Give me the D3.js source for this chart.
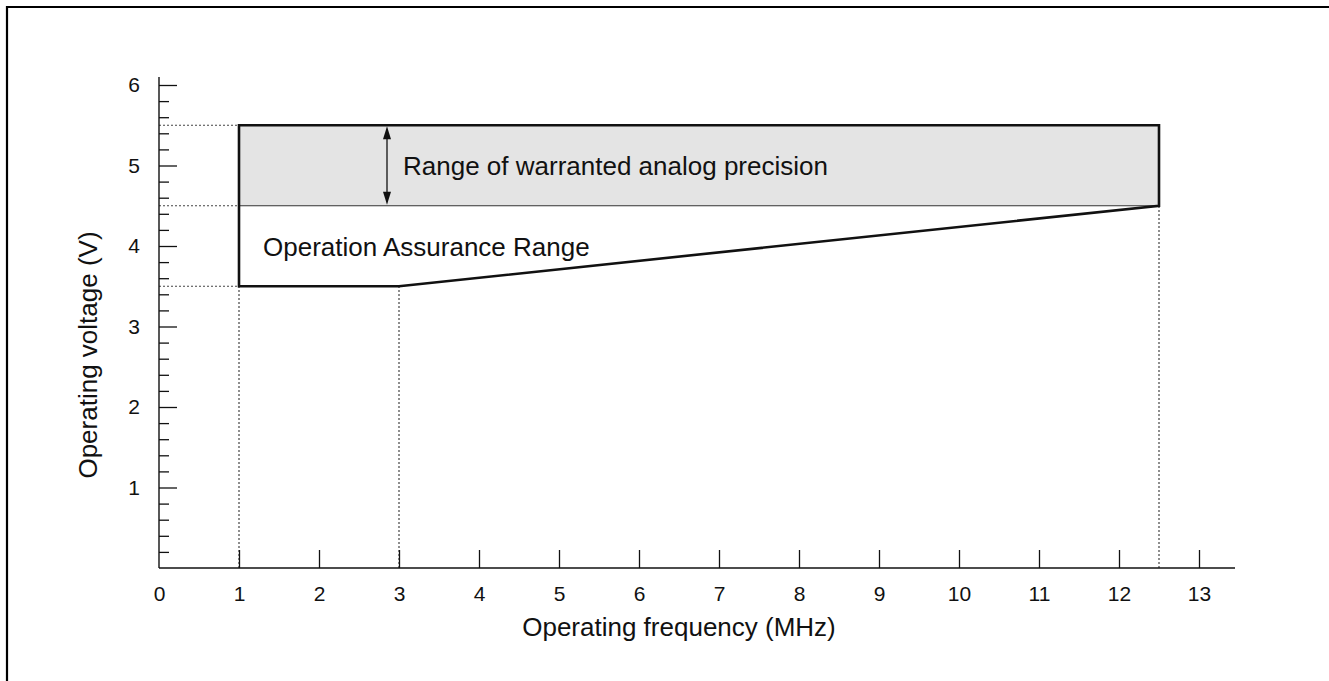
<!DOCTYPE html>
<html>
<head>
<meta charset="utf-8">
<script src="https://cdn.jsdelivr.net/npm/d3@7"></script>
<style>
  html, body { margin: 0; padding: 0; background: #fff; }
  svg { display: block; font-family: "Liberation Sans", Arial, sans-serif; }
</style>
</head>
<body>
<svg id="chart" width="1329" height="681"></svg>
<script>
// ---- data ----
const xTickValues = [0, 1, 2, 3, 4, 5, 6, 7, 8, 9, 10, 11, 12, 13];
const xTickLabels = ["0", "1", "2", "3", "4", "5", "6", "7", "8", "9", "10", "11", "12", "13"];
const yTickValues = [1, 2, 3, 4, 5, 6];
const yMinorValues = [0.2,0.4,0.6,0.8,1.2,1.4,1.6,1.8,2.2,2.4,2.6,2.8,3.2,3.4,3.6,3.8,4.2,4.4,4.6,4.8,5.2,5.4,5.6,5.8];
// operation assurance outline (frequency MHz, voltage V)
const outlineFreq = [1, 12.5, 12.5, 3, 1];
const outlineVolt = [5.5, 5.5, 4.5, 3.5, 3.5];
// warranted analog precision band
const bandFreq = [1, 12.5];
const bandVolt = [4.5, 5.5];
// dotted guide lines: [freq, volt]
const hGuides = [[1, 5.5], [1, 4.5], [1, 3.5]];
const vGuides = [[1, 3.5], [3, 3.5], [12.5, 4.5]];
const arrowFreq = 2.85;
const labels = [
  { text: "Range of warranted analog precision", f: 3.05, v: 5.0 },
  { text: "Operation Assurance Range", f: 1.3, v: 3.99 }
];
const xTitle = "Operating frequency (MHz)";
const yTitle = "Operating voltage (V)";

// ---- drawing ----
const svg = d3.select("#chart");
const x = d3.scaleLinear().domain([0, 13]).range([159, 1199]);
const y = d3.scaleLinear().domain([0, 6]).range([568, 85]);
const ink = "#111";
const font = "Liberation Sans, Arial, sans-serif";

// frame (top & left visible)
svg.append("path")
  .attr("d", "M7,690 L7,7 L1340,7")
  .attr("fill", "none").attr("stroke", "#000").attr("stroke-width", 2.2);

// gray band
svg.append("rect")
  .attr("x", x(bandFreq[0])).attr("y", y(bandVolt[1]))
  .attr("width", x(bandFreq[1]) - x(bandFreq[0]))
  .attr("height", y(bandVolt[0]) - y(bandVolt[1]))
  .attr("fill", "#e4e4e4");

// thin line at band bottom
svg.append("line")
  .attr("x1", x(bandFreq[0])).attr("x2", x(bandFreq[1]))
  .attr("y1", y(bandVolt[0])).attr("y2", y(bandVolt[0]))
  .attr("stroke", "#333").attr("stroke-width", 1);

// dotted guides
const dot = { stroke: "#444", "stroke-width": 1.2, "stroke-dasharray": "2,2" };
hGuides.forEach(([f, v]) => {
  const l = svg.append("line").attr("x1", x(0)).attr("x2", x(f)).attr("y1", y(v)).attr("y2", y(v));
  Object.entries(dot).forEach(([k, val]) => l.attr(k, val));
});
vGuides.forEach(([f, v]) => {
  const l = svg.append("line").attr("x1", x(f)).attr("x2", x(f)).attr("y1", y(0)).attr("y2", y(v));
  Object.entries(dot).forEach(([k, val]) => l.attr(k, val));
});

// outline
const line = d3.line().x(d => x(d[0])).y(d => y(d[1]));
svg.append("path")
  .datum(outlineFreq.map((f, i) => [f, outlineVolt[i]]))
  .attr("d", d => line(d) + "Z")
  .attr("fill", "none").attr("stroke", ink).attr("stroke-width", 2.6)
  .attr("stroke-linejoin", "miter");

// double arrow
const ax = x(arrowFreq), aTop = y(bandVolt[1]), aBot = y(bandVolt[0]);
const ah = 14, aw = 4;
svg.append("line").attr("x1", ax).attr("x2", ax).attr("y1", aTop + ah - 2).attr("y2", aBot - ah + 2)
  .attr("stroke", ink).attr("stroke-width", 1.3);
svg.append("path")
  .attr("d", `M${ax},${aTop + 1}L${ax - aw},${aTop + ah}L${ax + aw},${aTop + ah}Z`)
  .attr("fill", ink);
svg.append("path")
  .attr("d", `M${ax},${aBot - 1}L${ax - aw},${aBot - ah}L${ax + aw},${aBot - ah}Z`)
  .attr("fill", ink);

// text annotations
labels.forEach(l => {
  svg.append("text").attr("x", x(l.f)).attr("y", y(l.v)).attr("dy", "0.35em")
    .attr("font-size", 26).attr("fill", ink).text(l.text);
});

// x axis
const xAxis = d3.axisBottom(x).tickValues(xTickValues)
  .tickFormat((d, i) => xTickLabels[i])
  .tickSizeInner(-18).tickSizeOuter(0).tickPadding(18);
const gx = svg.append("g").attr("transform", `translate(0,${y(0)})`).call(xAxis);
gx.select(".domain").remove();
gx.selectAll(".tick line").attr("stroke", ink).attr("stroke-width", 1.3)
  .filter(d => d === 0).remove();
gx.selectAll(".tick text").attr("font-size", 21).attr("fill", ink).attr("font-family", font);
svg.append("line").attr("x1", x(0)).attr("x2", x(13.45)).attr("y1", y(0)).attr("y2", y(0))
  .attr("stroke", ink).attr("stroke-width", 1.4);

// y axis minor
const yMinor = d3.axisLeft(y).tickValues(yMinorValues).tickFormat("")
  .tickSizeInner(-10).tickSizeOuter(0);
const gym = svg.append("g").attr("transform", `translate(${x(0)},0)`).call(yMinor);
gym.select(".domain").remove();
gym.selectAll(".tick line").attr("stroke", ink).attr("stroke-width", 1.3);

// y axis major
const yAxis = d3.axisLeft(y).tickValues(yTickValues).tickFormat(d3.format("d"))
  .tickSizeInner(-18).tickSizeOuter(0).tickPadding(19);
const gy = svg.append("g").attr("transform", `translate(${x(0)},0)`).call(yAxis);
gy.select(".domain").remove();
gy.selectAll(".tick line").attr("stroke", ink).attr("stroke-width", 1.3);
gy.selectAll(".tick text").attr("font-size", 21).attr("fill", ink).attr("font-family", font);
svg.append("line").attr("x1", x(0)).attr("x2", x(0)).attr("y1", y(6.1)).attr("y2", y(0))
  .attr("stroke", ink).attr("stroke-width", 1.4);

// axis titles
svg.append("text").attr("x", 679).attr("y", 636)
  .attr("text-anchor", "middle").attr("font-size", 26).attr("fill", ink).text(xTitle);
svg.append("text").attr("transform", `translate(97,355) rotate(-90)`)
  .attr("text-anchor", "middle").attr("font-size", 26).attr("fill", ink).text(yTitle);
</script>
</body>
</html>
